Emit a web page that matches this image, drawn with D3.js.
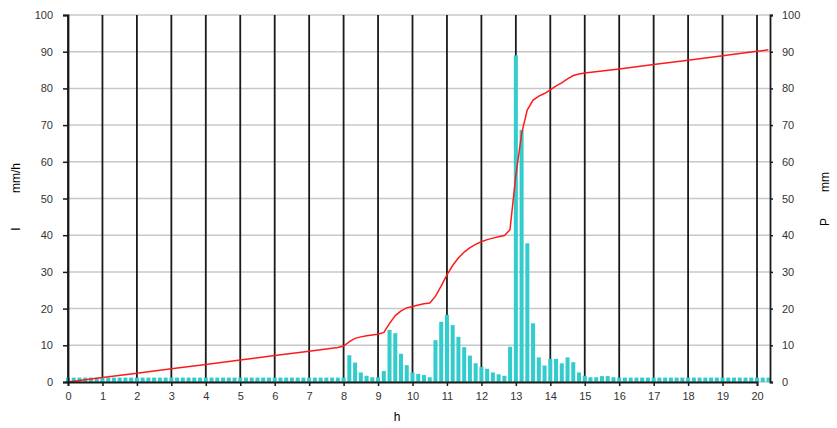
<!DOCTYPE html>
<html>
  <head>
    <meta charset="utf-8">
    <title></title>
    <script type="text/javascript" src="https://d3js.org/d3.v7.min.js"></script>
    <style media="screen">
      body { margin: 0; background: #fff; }
      text { font-family: "Liberation Sans", Arial, sans-serif; }
    </style>
  </head>
  <body>

    <script type="text/javascript">

      // 10 minute rain intensity (mm/h), one value every 1/6 h from 0 h to 20h20
      var intensity = [
        1.2, 1.2, 1.2, 1.2, 1.2, 1.2,  1.2, 1.2, 1.2, 1.2, 1.2, 1.2,
        1.2, 1.2, 1.2, 1.2, 1.2, 1.2,  1.2, 1.2, 1.2, 1.2, 1.2, 1.2,
        1.2, 1.2, 1.2, 1.2, 1.2, 1.2,  1.2, 1.2, 1.2, 1.2, 1.2, 1.2,
        1.2, 1.2, 1.2, 1.2, 1.2, 1.2,  1.2, 1.2, 1.2, 1.2, 1.2, 1.2,
        1.2, 7.3, 5.3, 2.6, 1.7, 1.3,
        1.3, 3.0, 14.2, 13.3, 7.7, 4.6,
        2.6, 2.2, 1.9, 1.3, 11.4, 16.4,
        18.3, 15.5, 12.3, 9.5, 7.2, 5.1,
        4.1, 3.6, 2.6, 2.1, 1.7, 9.6,
        89, 68.7, 37.8, 16, 6.7, 4.5,
        6.3, 6.3, 5.1, 6.7, 5.4, 2.6,
        1.7, 1.3, 1.3, 1.6, 1.6, 1.3,
        1.2, 1.2, 1.2, 1.2, 1.2, 1.2,  1.2, 1.2, 1.2, 1.2, 1.2, 1.2,
        1.2, 1.2, 1.2, 1.2, 1.2, 1.2,  1.2, 1.2, 1.2, 1.2, 1.2, 1.2,
        1.2, 1.2, 1.2
      ];

      // cumulative precipitation (mm)
      var cumHour = [0, 1, 2, 3, 4, 5, 6, 7, 7.83, 8.0, 8.17, 8.33, 8.5, 8.67, 8.83, 9.0,
        9.17, 9.33, 9.5, 9.67, 9.83, 10.0, 10.17, 10.33, 10.5, 10.67, 10.83, 11.0,
        11.17, 11.33, 11.5, 11.67, 11.83, 12.0, 12.17, 12.33, 12.5, 12.67, 12.83,
        13.0, 13.17, 13.33, 13.5, 13.67, 13.83, 14.0, 14.17, 14.33, 14.5, 14.67,
        14.83, 15.0, 16, 17, 18, 19, 20, 20.33];
      var cumP = [0, 1.2, 2.4, 3.6, 4.8, 6.0, 7.2, 8.4, 9.4, 9.8, 11.0, 11.9, 12.3, 12.6, 12.8, 13.0,
        13.5, 15.9, 18.1, 19.4, 20.2, 20.6, 21.0, 21.3, 21.5, 23.4, 26.1, 29.2,
        31.8, 33.8, 35.4, 36.6, 37.5, 38.2, 38.8, 39.2, 39.6, 39.9, 41.5,
        56.3, 67.8, 74.1, 76.8, 77.9, 78.6, 79.6, 80.7, 81.5, 82.6, 83.5,
        83.9, 84.2, 85.3, 86.5, 87.7, 88.9, 90.1, 90.5];

      var hourTicks = d3.range(0, 21);
      var valueTicks = d3.range(0, 101, 10);

      var w = 837;
      var h = 428;
      var padLeft = 68, padRight = 770, padTop = 15, padBottom = 382;

      var xscale = d3.scaleLinear()
        .domain([0, 20])
        .range([padLeft, 757]);

      var yscale = d3.scaleLinear()
        .domain([0, 100])
        .range([padBottom, padTop]);

      var svg = d3.select('body')
        .append('svg')
        .attr('width', w)
        .attr('height', h);

      // horizontal grid
      svg.selectAll('line.hgrid')
        .data(valueTicks)
        .enter()
        .append('line')
        .attr('class', 'hgrid')
        .attr('x1', padLeft)
        .attr('x2', padRight)
        .attr('y1', function(d){ return yscale(d); })
        .attr('y2', function(d){ return yscale(d); })
        .attr('stroke', '#c8c8c8')
        .attr('stroke-width', 1.5);

      // hour lines
      svg.selectAll('line.vgrid')
        .data(hourTicks)
        .enter()
        .append('line')
        .attr('class', 'vgrid')
        .attr('x1', function(d){ return xscale(d); })
        .attr('x2', function(d){ return xscale(d); })
        .attr('y1', padTop)
        .attr('y2', padBottom)
        .attr('stroke', '#1a1a1a')
        .attr('stroke-width', 1.8);

      // bars (drawn over the hour lines)
      var step = xscale(1/6) - xscale(0);
      var bw = step * 0.7;
      svg.selectAll('rect')
        .data(intensity)
        .enter()
        .append('rect')
        .attr('x', function(d, i){ return xscale(i/6) - bw/2; })
        .attr('y', function(d){ return yscale(d); })
        .attr('width', bw)
        .attr('height', function(d){ return padBottom - yscale(d); })
        .attr('fill', '#33cccc');

      // cumulative line
      var line = d3.line()
        .x(function(d, i){ return xscale(cumHour[i]); })
        .y(function(d){ return yscale(d); });

      svg.append('path')
        .datum(cumP)
        .attr('d', line)
        .attr('fill', 'none')
        .attr('stroke', '#ff1a1a')
        .attr('stroke-width', 1.5);

      var yAxisL = d3.axisLeft(yscale).tickValues(valueTicks).tickSize(5).tickPadding(10);
      var yAxisR = d3.axisRight(yscale).tickValues(valueTicks).tickSize(3).tickPadding(9);
      var xAxis = d3.axisBottom(xscale).tickValues(hourTicks).tickSize(4).tickPadding(6);

      svg.append('g')
        .attr('class', 'y axis')
        .attr('transform', 'translate(' + padLeft + ',0)')
        .call(yAxisL);

      svg.append('g')
        .attr('class', 'y axis')
        .attr('transform', 'translate(' + padRight + ',0)')
        .call(yAxisR);

      svg.append('g')
        .attr('class', 'x axis')
        .attr('transform', 'translate(0,' + padBottom + ')')
        .call(xAxis);

      svg.selectAll('.axis path')
        .attr('stroke', '#1a1a1a')
        .attr('stroke-width', 1.8);
      svg.selectAll('.axis line')
        .attr('stroke', '#1a1a1a')
        .attr('stroke-width', 1.5);
      svg.selectAll('.axis text')
        .attr('font-size', 11)
        .attr('fill', '#333');
      svg.selectAll('.axis').attr('font-family', null);

      // axis titles
      svg.append('text')
        .attr('transform', 'translate(20,229)rotate(-90)')
        .attr('text-anchor', 'middle')
        .attr('font-size', 12)
        .text('I');
      svg.append('text')
        .attr('transform', 'translate(20,178)rotate(-90)')
        .attr('text-anchor', 'middle')
        .attr('font-size', 12)
        .text('mm/h');

      svg.append('text')
        .attr('transform', 'translate(829,222)rotate(-90)')
        .attr('text-anchor', 'middle')
        .attr('font-size', 12)
        .text('P');
      svg.append('text')
        .attr('transform', 'translate(829,182)rotate(-90)')
        .attr('text-anchor', 'middle')
        .attr('font-size', 12)
        .text('mm');

      svg.append('text')
        .attr('x', 397)
        .attr('y', 421)
        .attr('text-anchor', 'middle')
        .attr('font-size', 12)
        .text('h');

    </script>

  </body>
</html>
